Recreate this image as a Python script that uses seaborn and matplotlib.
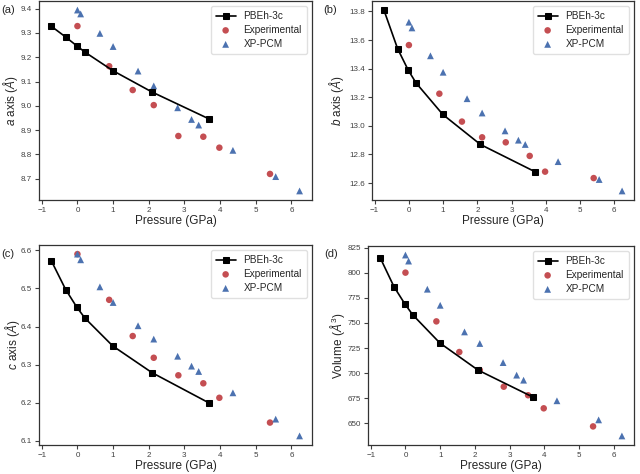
import numpy as np
import pandas as pd
import matplotlib
matplotlib.use("Agg")
import matplotlib.pyplot as plt
import seaborn as sns

# pressures (GPa)
P_PBEH = [-0.73, -0.33, -0.02, 0.21, 0.99, 2.09, 3.68]
P_EXP = [0.0, 0.89, 1.55, 2.14, 2.83, 3.53, 3.98, 5.40]
P_XP = [0.0, 0.09, 0.63, 1.0, 1.70, 2.14, 2.81, 3.20, 3.40, 4.36, 5.56, 6.23]

# a axis (Å)
A_PBEH = [9.327, 9.283, 9.247, 9.221, 9.145, 9.057, 8.947]
A_EXP = [9.328, 9.163, 9.065, 9.003, 8.876, 8.873, 8.828, 8.720]
A_XP = [9.394, 9.378, 9.298, 9.244, 9.143, 9.082, 8.992, 8.944, 8.921, 8.817, 8.709, 8.650]

# b axis (Å)
B_PBEH = [13.81, 13.54, 13.39, 13.30, 13.08, 12.87, 12.68]
B_EXP = [13.565, 13.225, 13.03, 12.92, 12.885, 12.79, 12.68, 12.635]
B_XP = [13.725, 13.685, 13.49, 13.375, 13.19, 13.09, 12.965, 12.90, 12.87, 12.75, 12.625, 12.545]

# c axis (Å)
C_PBEH = [6.572, 6.497, 6.451, 6.422, 6.349, 6.279, 6.200]
C_EXP = [6.590, 6.470, 6.375, 6.318, 6.272, 6.251, 6.213, 6.148]
C_XP = [6.590, 6.575, 6.504, 6.463, 6.402, 6.367, 6.322, 6.296, 6.282, 6.226, 6.157, 6.113]

# volume (Å^3)
V_PBEH = [815, 786, 769, 758, 730, 703, 676]
V_EXP = [800, 751.5, 721, 703, 686.5, 678, 665, 647]
V_XP = [817.5, 811.5, 783.5, 767.5, 741, 729.5, 710.5, 698, 693, 672.5, 653.5, 637.5]

PANELS = [
    ("(a)", "$a$ axis ($\\mathit{Å}$)", A_PBEH, A_EXP, A_XP),
    ("(b)", "$b$ axis ($\\mathit{Å}$)", B_PBEH, B_EXP, B_XP),
    ("(c)", "$c$ axis ($\\mathit{Å}$)", C_PBEH, C_EXP, C_XP),
    ("(d)", "Volume ($\\mathit{Å}^3$)", V_PBEH, V_EXP, V_XP),
]

sns.set_theme(style="ticks")
plt.rcParams["font.family"] = ["Liberation Sans", "DejaVu Sans"]
plt.rcParams["mathtext.fontset"] = "custom"
plt.rcParams["mathtext.rm"] = "Liberation Sans"
plt.rcParams["mathtext.it"] = "Liberation Sans:italic"

red = sns.color_palette("deep")[3]
blue = sns.color_palette("deep")[0]

fig = plt.figure(figsize=(6.4, 4.74), dpi=100)
W, H = 640.0, 474.0
# axes boxes in pixels: left, top, right, bottom
boxes = [(39, 1, 312, 200), (372, 1, 634, 200), (39, 245, 312, 445), (368, 246, 634, 445)]
label_pos = [(1, 10), (323, 10), (1, 254), (324, 254)]
ylabel_right = [20, 346, 22, 347]  # pixel x of ylabel's right edge

for (tag, ylabel, y_pbeh, y_exp, y_xp), (l, t, r, b), (lx, ly), yr in zip(
        PANELS, boxes, label_pos, ylabel_right):
    ax = fig.add_axes([l / W, 1 - b / H, (r - l) / W, (b - t) / H])
    sns.lineplot(x=P_PBEH, y=y_pbeh, ax=ax, color="black", marker="s", markersize=5,
                 markeredgecolor="black", linewidth=1.2, label="PBEh-3c")
    sns.scatterplot(x=P_EXP, y=y_exp, ax=ax, color=red, marker="o", s=22,
                    edgecolor="none", label="Experimental")
    sns.scatterplot(x=P_XP, y=y_xp, ax=ax, color=blue, marker="^", s=24,
                    edgecolor="none", label="XP-PCM")
    ax.set_xticks(range(-1, 7))
    ax.set_xlabel("Pressure (GPa)", fontsize=8.5, labelpad=1)
    ax.set_ylabel(ylabel, fontsize=8.5)
    ax.yaxis.set_label_coords((yr - l) / (r - l), 0.5)
    ax.tick_params(labelsize=5.8, length=3, width=0.8, pad=2, colors="0.25")
    for sp in ax.spines.values():
        sp.set_linewidth(0.9)
        sp.set_color("0.2")
    leg = ax.legend(loc="upper right", fontsize=7.2, frameon=True, borderpad=0.5,
                    handlelength=2.0, labelspacing=0.4)
    leg.get_frame().set_edgecolor("0.85")
    fig.text(lx / W, 1 - ly / H, tag, fontsize=8, va="center", ha="left")

fig.savefig("out.png", dpi=100)
